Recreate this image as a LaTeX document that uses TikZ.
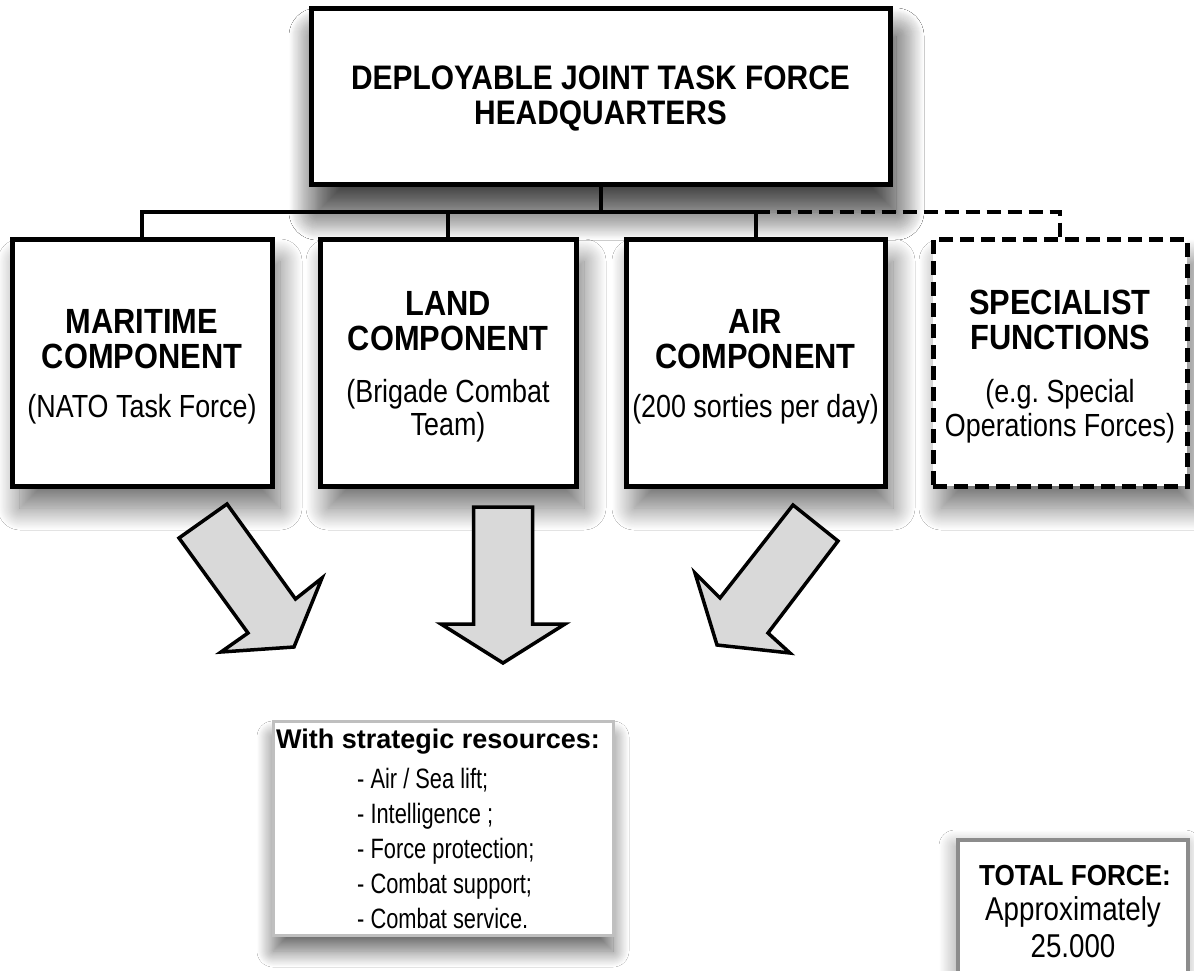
\documentclass[tikz,border=0pt]{standalone}
\usepackage{fontspec}
\setmainfont{Liberation Sans}
\newfontfamily\condfont[FakeStretch=0.84]{Liberation Sans}
\newfontfamily\narrowfont[FakeStretch=0.78]{Liberation Sans}
\newfontfamily\titlecond[FakeStretch=0.88]{Liberation Sans}
\newfontfamily\hqcond[FakeStretch=0.88]{Liberation Sans}
\newfontfamily\totcond[FakeStretch=0.90]{Liberation Sans}
\usetikzlibrary{shadows.blur}
\tikzset{
  box/.style={draw, rectangle, line width=5pt, fill=white, inner sep=0pt,
    blur shadow={shadow xshift=8pt, shadow yshift=-22pt, shadow blur radius=22pt, shadow blur steps=30, shadow opacity=55}},
  hqbox/.style={box, blur shadow={shadow xshift=6pt, shadow yshift=-28pt, shadow blur radius=28pt, shadow blur steps=30, shadow opacity=50}},
  dbox/.style={box, dash pattern=on 14pt off 7pt},
  conn/.style={line width=4pt},
  dconn/.style={conn, dash pattern=on 14pt off 7pt},
  hqtxt/.style={anchor=base, inner sep=0pt, font=\hqcond\bfseries\fontsize{34}{36}\selectfont},
  ttl/.style={anchor=base, inner sep=0pt, font=\titlecond\bfseries\fontsize{35}{38}\selectfont},
  subt/.style={anchor=base, inner sep=0pt, font=\condfont\fontsize{32}{34}\selectfont},
  bigarrow/.style={draw, line width=3.5pt, fill=black!15, line join=miter},
  resbox/.style={draw=black!25, rectangle, line width=3pt, fill=white, inner sep=0pt,
    blur shadow={shadow xshift=0pt, shadow yshift=-16pt, shadow blur radius=16pt, shadow blur steps=30, shadow opacity=60}},
  totbox/.style={draw=black!45, rectangle, line width=3.5pt, fill=white, inner sep=0pt,
    blur shadow={shadow xshift=-3pt, shadow yshift=-6pt, shadow blur radius=16pt, shadow blur steps=30, shadow opacity=40}},
  restitle/.style={anchor=base, inner sep=0pt, font=\bfseries\fontsize{27}{30}\selectfont},
  resitem/.style={anchor=base west, inner sep=0pt, font=\narrowfont\fontsize{28}{30}\selectfont},
  tottitle/.style={anchor=base, inner sep=0pt, font=\totcond\bfseries\fontsize{29}{30}\selectfont},
  tottxt/.style={anchor=base, inner sep=0pt, font=\condfont\fontsize{33}{34}\selectfont}
}
\begin{document}
\frenchspacing
\begin{tikzpicture}[x=1pt,y=-1pt]
\useasboundingbox (0,0) rectangle (1194,970);
\clip (0,0) rectangle (1194,970);
\fill[white] (0,0) rectangle (1194,970);

% boxes
\node[hqbox, minimum width=579pt, minimum height=176pt] (hq) at (600.5,96) {};
\node[box, minimum width=260pt, minimum height=247pt] (mar) at (142,362.5) {};
\node[box, minimum width=256pt, minimum height=247pt] (land) at (448,362.5) {};
\node[box, minimum width=259pt, minimum height=247pt] (air) at (755.5,362.5) {};
\node[dbox, minimum width=254pt, minimum height=247pt] (spec) at (1060,362.5) {};

% connectors
\coordinate (bus) at (0,212);
\draw[conn] (hq.south) -- (hq.south |- bus);
\draw[conn] (mar.north) -- (mar.north |- bus) -- (air.north |- bus) -- (air.north);
\draw[conn] (land.north) -- (land.north |- bus);
\draw[dconn] (air.north |- bus) -- (spec.north |- bus) -- (spec.north);

% texts
\node[hqtxt] (hq1) at (600.5,89) {DEPLOYABLE JOINT TASK FORCE};
\node[hqtxt] (hq2) at (600.5,124) {HEADQUARTERS};

\node[ttl] (mar1) at (142,333) {MARITIME};
\node[ttl] (mar2) at (142,368) {COMPONENT};
\node[subt] (mar3) at (142,417) {(NATO Task Force)};

\node[ttl] (land1) at (448,315) {LAND};
\node[ttl] (land2) at (448,350) {COMPONENT};
\node[subt] (land3) at (448,402) {(Brigade Combat};
\node[subt] (land4) at (448,435) {Team)};

\node[ttl] (air1) at (755.5,333) {AIR};
\node[ttl] (air2) at (755.5,368) {COMPONENT};
\node[subt] (air3) at (755.5,417) {(200 sorties per day)};

\node[ttl] (spec1) at (1060,314) {SPECIALIST};
\node[ttl] (spec2) at (1060,349) {FUNCTIONS};
\node[subt] (spec3) at (1060,402) {(e.g. Special};
\node[subt] (spec4) at (1060,436) {Operations Forces)};

% big arrows
\draw[bigarrow] (227,504) -- (295.5,599) -- (322,578) -- (294,647) -- (221,652) -- (248,633) -- (179,538) -- cycle;
\draw[bigarrow] (473.5,507) -- (532.5,507) -- (532.5,624) -- (565,624) -- (503,663) -- (441,624) -- (473.5,624) -- cycle;
\draw[bigarrow] (793,505) -- (838,541) -- (768,633) -- (790,653) -- (717,645) -- (695,573) -- (720,598) -- cycle;

% resources box
\node[resbox, minimum width=340pt, minimum height=214pt] (res) at (443,828) {};
\node[restitle] (res0) at (438,748) {With strategic resources:};
\node[resitem] (res1) at (357,788) {- Air / Sea lift;};
\node[resitem] (res2) at (357,823) {- Intelligence ;};
\node[resitem] (res3) at (357,858) {- Force protection;};
\node[resitem] (res4) at (357,893) {- Combat support;};
\node[resitem] (res5) at (357,928) {- Combat service.};

% total force box
\node[totbox, minimum width=230pt, minimum height=170pt] (tot) at (1073,925) {};
\node[tottitle] (tot1) at (1075,885) {TOTAL FORCE:};
\node[tottxt] (tot2) at (1073,920) {Approximately};
\node[tottxt] (tot3) at (1073,957) {25.000};
\end{tikzpicture}
\end{document}
